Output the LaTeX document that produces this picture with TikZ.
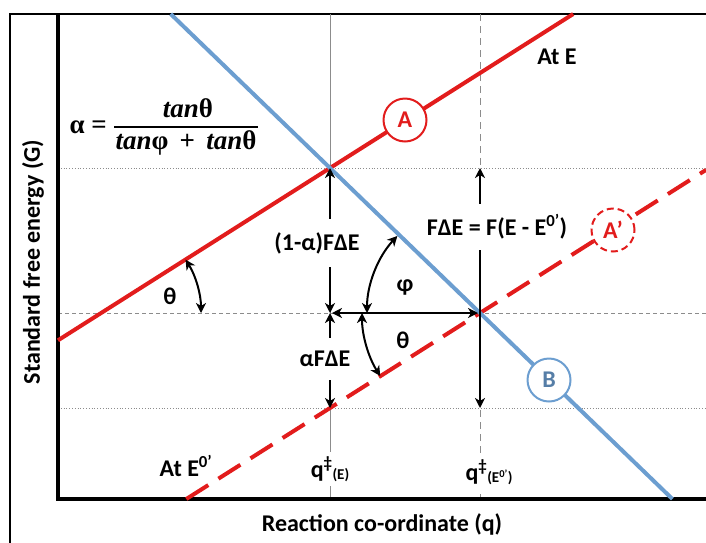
\documentclass[tikz,border=0pt]{standalone}
\usepackage{fontspec}
\setmainfont{Carlito}
\newfontfamily\fserif{Liberation Serif}
\usetikzlibrary{arrows.meta,calc}
\definecolor{rA}{RGB}{226,28,28}
\definecolor{bB}{RGB}{108,158,208}
\definecolor{gl}{RGB}{140,140,140}
\begin{document}
\begin{tikzpicture}[x=1pt,y=-1pt,
  font=\bfseries\fontsize{24}{28}\selectfont,
  darr/.style={line width=2pt,{Stealth[length=10pt,width=10pt,inset=3pt]}-{Stealth[length=10pt,width=10pt,inset=3pt]}},
  circ/.style={circle,fill=white,line width=2pt,minimum size=43pt,inner sep=0pt},
  lbl/.style={fill=white,inner xsep=2pt},
  txt/.style={inner sep=1pt},
  fml/.style={inner sep=1pt,font=\fserif\bfseries\fontsize{27}{30}\selectfont}]
\useasboundingbox (0,0) rectangle (706,542);
\clip (0,0) rectangle (706,542);
% key points
\coordinate (P1) at (330,168);
\coordinate (P2) at (480,313);
\coordinate (P3) at (330,313);
\coordinate (P4) at (330,408);
\coordinate (P5) at (480,168);
\coordinate (P6) at (480,408);
\coordinate (C3) at (101,313);
% frame
\draw[line width=2pt] (10,560) -- (10,14) -- (720,14);
% grid lines
\draw[gl,line width=0.8pt,dotted] (58,168) -- (706,168);
\draw[gl,line width=0.8pt,dash pattern=on 4pt off 3pt] (58,313) -- (706,313);
\draw[gl,line width=0.8pt,dotted] (58,408) -- (706,408);
\draw[gl,line width=1pt] (330,14) -- (330,499);
\draw[gl,line width=1pt,dash pattern=on 7pt off 5pt] (480,14) -- (480,499);
% axes
\draw[line width=4pt] (58,14) -- (58,499) -- (720,499);
% lines
\coordinate (A1) at (58,340.3);
\coordinate (A2) at (573.2,14);
\coordinate (Ap1) at (186.3,499);
\coordinate (Ap2) at (706,169.9);
\coordinate (B1) at (170.7,14);
\coordinate (B2) at (672.4,499);
\draw[rA,line width=4pt] (A1) -- (A2);
\draw[rA,line width=4pt,dash pattern=on 26pt off 12pt] (Ap1) -- (Ap2);
\draw[bB,line width=4pt] (B1) -- (B2);
% circles
\node[circ,draw=rA,text=rA] (cA) at (405,120) {A};
\node[circ,draw=rA,text=rA,dash pattern=on 7pt off 4pt] (cAp) at (613,230) {A’};
\node[circ,draw=bB,text=bB!80!black] (cB) at (549,380) {B};
% vertical arrows
\draw[darr] (P3) -- (P1);
\draw[darr] (P4) -- (P3);
\draw[darr] (P6) -- (P5);
\draw[darr,shorten <=2pt,shorten >=2pt] (P3) -- (P2);
\node[lbl,inner ysep=13pt] (l1) at (317,243) {(1-α)FΔE};
\node[lbl,inner ysep=13pt] (l2) at (325,359) {αFΔE};
\node[lbl,inner ysep=11pt] (l3) at (497,227) {FΔE = F(E - E\textsuperscript{0’})};
% angle arcs
\draw[darr] ($(P2)+(180:113)$) arc[start angle=180,end angle=223,radius=113];
\draw[darr] ($(P2)+(180:118)$) arc[start angle=180,end angle=147.7,radius=118];
\draw[darr] ($(C3)+(-32.3:100)$) arc[start angle=-32.3,end angle=0,radius=100];
% angle labels
\node[txt] (phi) at (405,287) {φ};
\node[txt] (th1) at (403,340) {θ};
\node[txt] (th2) at (170,296) {θ};
% texts
\node[txt] (atE) at (557,57) {At E};
\node[txt] (atE0) at (186,466) {At E\textsuperscript{0’}};
\node[lbl,inner ysep=4pt] (q1) at (330,469) {q\textsuperscript{‡}\raisebox{-2pt}{\fontsize{15}{15}\selectfont(E)}};
\node[lbl,inner ysep=4pt] (q2) at (489,472) {q\textsuperscript{‡}\raisebox{-2pt}{\fontsize{15}{15}\selectfont(E\textsuperscript{0’})}};
% formula
\node[fml,anchor=east] (falpha) at (108,127) {α =};
\node[fml] (fnum) at (188,108) {\itshape tan\upshape θ};
\node[fml] (fden) at (186,143) {\itshape tan\upshape φ\, + \,\itshape tan\upshape θ};
\draw[line width=1.4pt] (fden.west |- falpha) -- (fden.east |- falpha);
\node[txt] (xlab) at (382,524) {Reaction co-ordinate (q)};
\node[txt,rotate=90] (ylab) at (33,262) {Standard free energy (G)};
\end{tikzpicture}
\end{document}
